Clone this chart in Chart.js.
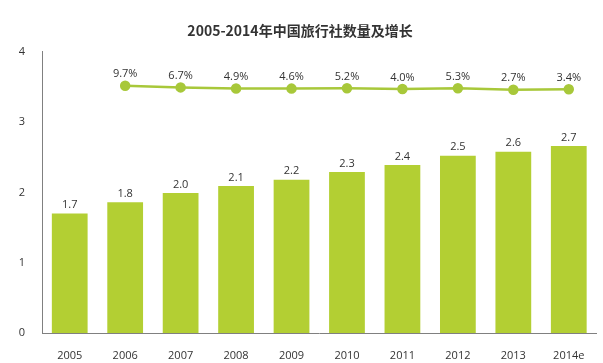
<!DOCTYPE html>
<html>
<head>
<meta charset="utf-8">
<script src="https://cdn.jsdelivr.net/npm/chart.js@4"></script>
<style>
  html, body { margin: 0; padding: 0; background: #fff; }
  #wrap { width: 603px; height: 363px; }
</style>
</head>
<body>
<div id="wrap"><canvas id="c" width="603" height="363"></canvas></div>
<script>
const years = ['2005', '2006', '2007', '2008', '2009', '2010', '2011', '2012', '2013', '2014e'];
// bar heights as drawn (万家), and the rounded labels printed on them
const agencies = [1.70, 1.86, 1.99, 2.09, 2.18, 2.29, 2.39, 2.52, 2.58, 2.66];
const agencyLabels = ['1.7', '1.8', '2.0', '2.1', '2.2', '2.3', '2.4', '2.5', '2.6', '2.7'];
const growth = [null, 9.7, 6.7, 4.9, 4.6, 5.2, 4.0, 5.3, 2.7, 3.4];
const yTicks = [0, 1, 2, 3, 4];

const BAR_COLOR = '#b3cf33';
const LINE_COLOR = '#a8c83a';
const TEXT = '#333333';
const FONT = '"Open Sans", "Noto Sans", sans-serif';

// draw value labels above bars and line points
const valueLabels = {
  id: 'valueLabels',
  afterDatasetsDraw(chart) {
    const ctx = chart.ctx;
    ctx.save();
    ctx.fillStyle = TEXT;
    ctx.font = '11px ' + FONT;
    ctx.textAlign = 'center';
    ctx.textBaseline = 'bottom';
    chart.getDatasetMeta(1).data.forEach((el, i) => {
      ctx.fillText(agencyLabels[i], el.x, el.y - 3);
    });
    chart.getDatasetMeta(0).data.forEach((el, i) => {
      if (growth[i] == null) return;
      ctx.fillText(growth[i].toFixed(1) + '%', el.x, el.y - 6);
    });
    ctx.restore();
  }
};

new Chart(document.getElementById('c'), {
  data: {
    labels: years,
    datasets: [
      {
        type: 'line',
        data: growth,
        yAxisID: 'y2',
        borderColor: LINE_COLOR,
        backgroundColor: LINE_COLOR,
        borderWidth: 2.5,
        pointRadius: 4,
        pointHoverRadius: 4,
        tension: 0,
        spanGaps: false,
      },
      {
        type: 'bar',
        data: agencies,
        yAxisID: 'y',
        backgroundColor: BAR_COLOR,
        barPercentage: 0.645,
        categoryPercentage: 1,
      },
    ],
  },
  options: {
    responsive: false,
    animation: false,
    events: [],
    layout: { padding: { left: 0, right: 3, top: 0, bottom: 0 } },
    plugins: {
      legend: { display: false },
      tooltip: { enabled: false },
      title: {
        display: true,
        text: '2005-2014年中国旅行社数量及增长',
        color: TEXT,
        font: { family: '"Noto Sans CJK SC", ' + FONT, size: 14, weight: 'bold' },
        padding: { top: 22, bottom: 13 },
      },
    },
    scales: {
      x: {
        grid: { display: false, drawTicks: false },
        border: { display: true, color: '#808080', width: 1 },
        ticks: { color: TEXT, font: { family: FONT, size: 11 }, padding: 16, maxRotation: 0 },
        afterFit(scale) { scale.height = 30; },
      },
      y: {
        min: 0,
        max: 4,
        afterBuildTicks(scale) { scale.ticks = yTicks.map(v => ({ value: v })); },
        grid: { display: false, drawTicks: false },
        border: { display: true, color: '#808080', width: 1 },
        ticks: { color: TEXT, font: { family: FONT, size: 11 }, padding: 17 },
        afterFit(scale) { scale.width = 42; },
      },
      y2: {
        display: false,
        min: -423,
        max: 69,
      },
    },
  },
  plugins: [valueLabels],
});
</script>
</body>
</html>
